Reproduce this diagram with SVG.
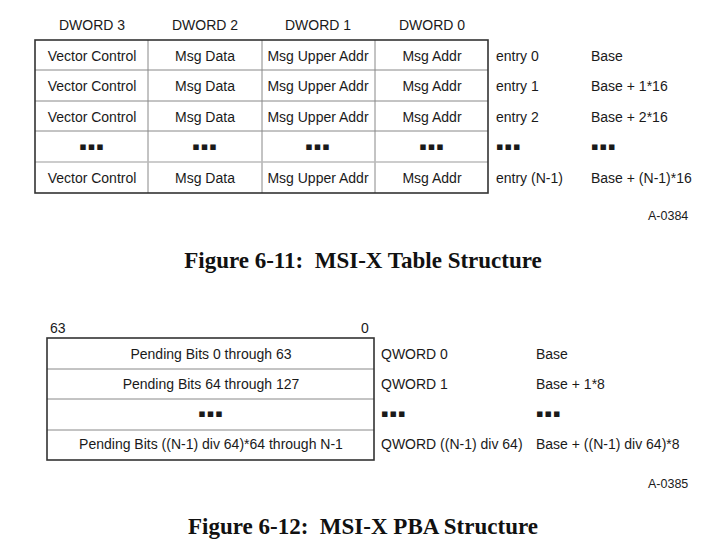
<svg xmlns="http://www.w3.org/2000/svg" width="723" height="555" viewBox="0 0 723 555">
<style>
.t{font-family:"Liberation Sans",Arial,sans-serif;font-size:14px;fill:#1a1a1a}
.c{text-anchor:middle}
.d{font-family:"DejaVu Sans",sans-serif;font-size:11px;fill:#1a1a1a;letter-spacing:1px}
.cap{font-family:"Liberation Serif","Times New Roman",serif;font-size:23px;font-weight:bold;fill:#111;text-anchor:middle;white-space:pre}
.sm{font-family:"Liberation Sans",Arial,sans-serif;font-size:12.5px;fill:#1a1a1a}
.box{fill:none;stroke:#333;stroke-width:1.6}
.ln{stroke:#888;stroke-width:1;fill:none}
.lg{stroke:#bbb;stroke-width:1.5;fill:none}
</style>
<rect width="723" height="555" fill="#fff"/>
<g id="connectors">
<line class="ln" x1="148" y1="40" x2="148" y2="193"/>
<line class="ln" x1="262" y1="40" x2="262" y2="193"/>
<line class="ln" x1="375" y1="40" x2="375" y2="193"/>
<line class="ln" x1="35" y1="70" x2="488" y2="70"/>
<line class="ln" x1="35" y1="101" x2="488" y2="101"/>
<line class="ln" x1="35" y1="131" x2="488" y2="131"/>
<line class="lg" x1="35" y1="162" x2="488" y2="162"/>
<line class="ln" x1="47" y1="369" x2="374" y2="369"/>
<line class="ln" x1="47" y1="399" x2="374" y2="399"/>
<line class="ln" x1="47" y1="430" x2="374" y2="430"/>
</g>
<g id="msix-table">
<rect class="box" x="35" y="40" width="453" height="153"/>
</g>
<g id="table-headers">
<text class="t c" x="92" y="30">DWORD 3</text>
<text class="t c" x="205" y="30">DWORD 2</text>
<text class="t c" x="318" y="30">DWORD 1</text>
<text class="t c" x="432" y="30">DWORD 0</text>
</g>
<g id="row0">
<text class="t c" x="92" y="61">Vector Control</text>
<text class="t c" x="205" y="61">Msg Data</text>
<text class="t c" x="318" y="61">Msg Upper Addr</text>
<text class="t c" x="432" y="61">Msg Addr</text>
<text class="t" x="496" y="61">entry 0</text>
<text class="t" x="591" y="61">Base</text>
</g>
<g id="row1">
<text class="t c" x="92" y="91">Vector Control</text>
<text class="t c" x="205" y="91">Msg Data</text>
<text class="t c" x="318" y="91">Msg Upper Addr</text>
<text class="t c" x="432" y="91">Msg Addr</text>
<text class="t" x="496" y="91">entry 1</text>
<text class="t" x="591" y="91">Base + 1*16</text>
</g>
<g id="row2">
<text class="t c" x="92" y="122">Vector Control</text>
<text class="t c" x="205" y="122">Msg Data</text>
<text class="t c" x="318" y="122">Msg Upper Addr</text>
<text class="t c" x="432" y="122">Msg Addr</text>
<text class="t" x="496" y="122">entry 2</text>
<text class="t" x="591" y="122">Base + 2*16</text>
</g>
<g id="row-dots">
<text class="d c" x="92" y="150">▪▪▪</text>
<text class="d c" x="205" y="150">▪▪▪</text>
<text class="d c" x="318" y="150">▪▪▪</text>
<text class="d c" x="432" y="150">▪▪▪</text>
<text class="d" x="496" y="150">▪▪▪</text>
<text class="d" x="591" y="150">▪▪▪</text>
</g>
<g id="rowN">
<text class="t c" x="92" y="183">Vector Control</text>
<text class="t c" x="205" y="183">Msg Data</text>
<text class="t c" x="318" y="183">Msg Upper Addr</text>
<text class="t c" x="432" y="183">Msg Addr</text>
<text class="t" x="496" y="183">entry (N-1)</text>
<text class="t" x="591" y="183">Base + (N-1)*16</text>
</g>
<text class="sm" x="648" y="220">A-0384</text>
<text class="cap" x="363" y="268">Figure 6-11:  MSI-X Table Structure</text>

<g id="pba-table">
<rect class="box" x="47" y="338" width="327" height="122"/>
</g>
<text class="t" x="50" y="333">63</text>
<text class="t" x="361" y="333">0</text>
<g id="pba-row0">
<text class="t c" x="211" y="359">Pending Bits 0 through 63</text>
<text class="t" x="381" y="359">QWORD 0</text>
<text class="t" x="536" y="359">Base</text>
</g>
<g id="pba-row1">
<text class="t c" x="211" y="389">Pending Bits 64 through 127</text>
<text class="t" x="381" y="389">QWORD 1</text>
<text class="t" x="536" y="389">Base + 1*8</text>
</g>
<g id="pba-dots">
<text class="d c" x="211" y="417">▪▪▪</text>
<text class="d" x="381" y="417">▪▪▪</text>
<text class="d" x="536" y="417">▪▪▪</text>
</g>
<g id="pba-rowN">
<text class="t c" x="211" y="449">Pending Bits ((N-1) div 64)*64 through N-1</text>
<text class="t" x="381" y="449">QWORD ((N-1) div 64)</text>
<text class="t" x="536" y="449">Base + ((N-1) div 64)*8</text>
</g>
<text class="sm" x="648" y="488">A-0385</text>
<text class="cap" x="363" y="534">Figure 6-12:  MSI-X PBA Structure</text>
</svg>
